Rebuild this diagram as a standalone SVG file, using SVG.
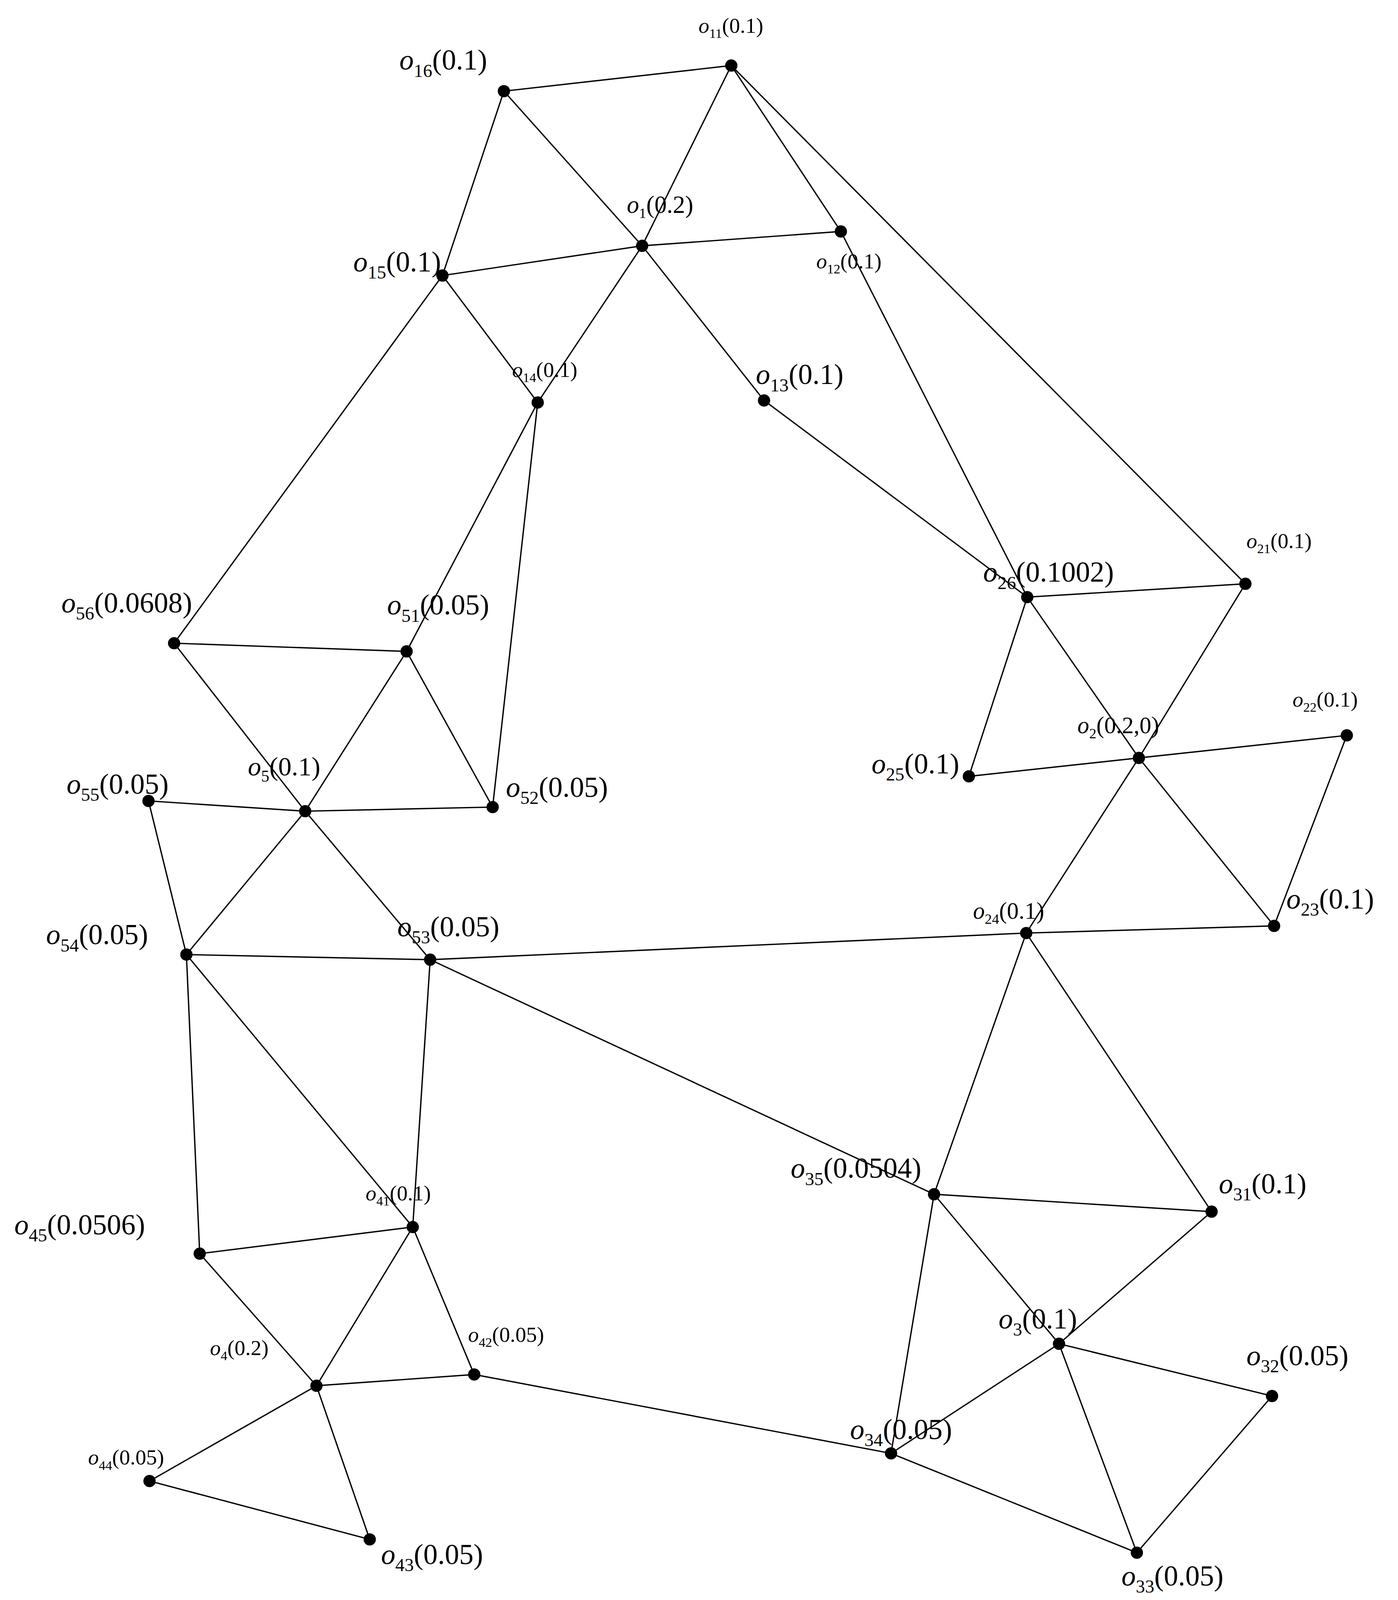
<svg xmlns="http://www.w3.org/2000/svg" width="3579" height="4113" viewBox="0 0 3579 4113">
<style>
line{stroke:#000;stroke-width:1.3}
circle{fill:#000}
text{font-family:"Liberation Serif",serif;fill:#000}
.L{font-size:28px}.S{font-size:21px}
.i{font-style:italic}
</style>
<rect width="3579" height="4113" fill="#fff"/>
<g transform="scale(2.622)">
<g id="edges">
<line x1="492" y1="89" x2="714" y2="64"/><line x1="492" y1="89" x2="432" y2="269"/><line x1="492" y1="89" x2="627" y2="240"/><line x1="627" y1="240" x2="746" y2="391"/>
<line x1="714" y1="64" x2="627" y2="240"/><line x1="714" y1="64" x2="821" y2="226"/><line x1="714" y1="64" x2="1216" y2="570"/>
<line x1="432" y1="269" x2="627" y2="240"/><line x1="627" y1="240" x2="821" y2="226"/><line x1="627" y1="240" x2="525" y2="393"/><line x1="432" y1="269" x2="525" y2="393"/>
<line x1="432" y1="269" x2="170" y2="628"/><line x1="821" y1="226" x2="1003" y2="583"/><line x1="746" y1="391" x2="1003" y2="583"/>
<line x1="525" y1="393" x2="397" y2="636"/><line x1="525" y1="393" x2="481" y2="788"/>
<line x1="170" y1="628" x2="397" y2="636"/><line x1="170" y1="628" x2="298" y2="792"/><line x1="397" y1="636" x2="298" y2="792"/><line x1="397" y1="636" x2="481" y2="788"/>
<line x1="145" y1="782" x2="298" y2="792"/><line x1="298" y1="792" x2="481" y2="788"/><line x1="145" y1="782" x2="182" y2="932"/><line x1="298" y1="792" x2="182" y2="932"/><line x1="298" y1="792" x2="420" y2="937"/>
<line x1="182" y1="932" x2="420" y2="937"/><line x1="420" y1="937" x2="1002" y2="911"/><line x1="420" y1="937" x2="912" y2="1166"/><line x1="420" y1="937" x2="403" y2="1198"/>
<line x1="182" y1="932" x2="195" y2="1224"/><line x1="182" y1="932" x2="403" y2="1198"/>
<line x1="1003" y1="583" x2="1216" y2="570"/><line x1="1003" y1="583" x2="946" y2="758"/><line x1="1003" y1="583" x2="1112" y2="740"/><line x1="1216" y1="570" x2="1112" y2="740"/>
<line x1="946" y1="758" x2="1112" y2="740"/><line x1="1112" y1="740" x2="1315" y2="718"/><line x1="1315" y1="718" x2="1244" y2="904"/><line x1="1112" y1="740" x2="1244" y2="904"/><line x1="1112" y1="740" x2="1002" y2="911"/>
<line x1="1002" y1="911" x2="1244" y2="904"/><line x1="1002" y1="911" x2="912" y2="1166"/><line x1="1002" y1="911" x2="1183" y2="1183"/>
<line x1="912" y1="1166" x2="1183" y2="1183"/><line x1="912" y1="1166" x2="1034" y2="1312"/><line x1="912" y1="1166" x2="870" y2="1419"/><line x1="1183" y1="1183" x2="1034" y2="1312"/>
<line x1="1034" y1="1312" x2="1242" y2="1363"/><line x1="1034" y1="1312" x2="870" y2="1419"/><line x1="1034" y1="1312" x2="1110" y2="1516"/><line x1="1242" y1="1363" x2="1110" y2="1516"/><line x1="870" y1="1419" x2="1110" y2="1516"/>
<line x1="870" y1="1419" x2="463" y2="1342"/><line x1="403" y1="1198" x2="463" y2="1342"/><line x1="403" y1="1198" x2="309" y2="1353"/><line x1="195" y1="1224" x2="403" y2="1198"/><line x1="195" y1="1224" x2="309" y2="1353"/>
<line x1="309" y1="1353" x2="463" y2="1342"/><line x1="309" y1="1353" x2="146" y2="1446"/><line x1="309" y1="1353" x2="361" y2="1503"/><line x1="146" y1="1446" x2="361" y2="1503"/>
</g>
<g id="o11"><circle cx="714" cy="64" r="6"/><text class="S" x="682" y="32"><tspan class="i">o</tspan><tspan font-size="13" dy="5">11</tspan><tspan dy="-5">(0.1)</tspan></text></g>
<g id="o16"><circle cx="492" cy="89" r="6"/><text class="L" x="390" y="68"><tspan class="i">o</tspan><tspan font-size="18" dy="7">16</tspan><tspan dy="-7">(0.1)</tspan></text></g>
<g id="o1"><circle cx="627" cy="240" r="6"/><text font-size="24" x="612" y="208"><tspan class="i">o</tspan><tspan font-size="14" dy="5">1</tspan><tspan dy="-5">(0.2)</tspan></text></g>
<g id="o12"><circle cx="821" cy="226" r="6"/><text class="S" x="797" y="262"><tspan class="i">o</tspan><tspan font-size="13" dy="5">12</tspan><tspan dy="-5">(0.1)</tspan></text></g>
<g id="o15"><circle cx="432" cy="269" r="6"/><text class="L" x="345" y="265"><tspan class="i">o</tspan><tspan font-size="18" dy="7">15</tspan><tspan dy="-7">(0.1)</tspan></text></g>
<g id="o14"><circle cx="525" cy="393" r="6"/><text class="S" x="500" y="368"><tspan class="i">o</tspan><tspan font-size="13" dy="5">14</tspan><tspan dy="-5">(0.1)</tspan></text></g>
<g id="o13"><circle cx="746" cy="391" r="6"/><text class="L" x="738" y="375"><tspan class="i">o</tspan><tspan font-size="18" dy="7">13</tspan><tspan dy="-7">(0.1)</tspan></text></g>
<g id="o56"><circle cx="170" cy="628" r="6"/><text class="L" x="60" y="598"><tspan class="i">o</tspan><tspan font-size="18" dy="7">56</tspan><tspan dy="-7">(0.0608)</tspan></text></g>
<g id="o51"><circle cx="397" cy="636" r="6"/><text class="L" x="378" y="600"><tspan class="i">o</tspan><tspan font-size="18" dy="7">51</tspan><tspan dy="-7">(0.05)</tspan></text></g>
<g id="o52"><circle cx="481" cy="788" r="6"/><text class="L" x="494" y="778"><tspan class="i">o</tspan><tspan font-size="18" dy="7">52</tspan><tspan dy="-7">(0.05)</tspan></text></g>
<g id="o5"><circle cx="298" cy="792" r="6"/><text font-size="26" x="242" y="757"><tspan class="i">o</tspan><tspan font-size="16" dy="6">5</tspan><tspan dy="-6">(0.1)</tspan></text></g>
<g id="o55"><circle cx="145" cy="782" r="6"/><text class="L" x="65" y="775"><tspan class="i">o</tspan><tspan font-size="18" dy="7">55</tspan><tspan dy="-7">(0.05)</tspan></text></g>
<g id="o54"><circle cx="182" cy="932" r="6"/><text class="L" x="45" y="922"><tspan class="i">o</tspan><tspan font-size="18" dy="7">54</tspan><tspan dy="-7">(0.05)</tspan></text></g>
<g id="o53"><circle cx="420" cy="937" r="6"/><text class="L" x="388" y="914"><tspan class="i">o</tspan><tspan font-size="18" dy="7">53</tspan><tspan dy="-7">(0.05)</tspan></text></g>
<g id="o26"><circle cx="1003" cy="583" r="6"/><text class="L" x="960" y="568"><tspan class="i">o</tspan><tspan font-size="18" dy="7">26</tspan><tspan dy="-7">(0.1002)</tspan></text></g>
<g id="o21"><circle cx="1216" cy="570" r="6"/><text class="S" x="1217" y="535"><tspan class="i">o</tspan><tspan font-size="13" dy="5">21</tspan><tspan dy="-5">(0.1)</tspan></text></g>
<g id="o22"><circle cx="1315" cy="718" r="6"/><text class="S" x="1262" y="690"><tspan class="i">o</tspan><tspan font-size="13" dy="5">22</tspan><tspan dy="-5">(0.1)</tspan></text></g>
<g id="o2"><circle cx="1112" cy="740" r="6"/><text font-size="23" x="1052" y="716"><tspan class="i">o</tspan><tspan font-size="14" dy="5">2</tspan><tspan dy="-5">(0.2,0)</tspan></text></g>
<g id="o25"><circle cx="946" cy="758" r="6"/><text class="L" x="851" y="755"><tspan class="i">o</tspan><tspan font-size="18" dy="7">25</tspan><tspan dy="-7">(0.1)</tspan></text></g>
<g id="o24"><circle cx="1002" cy="911" r="6"/><text font-size="23" x="950" y="897"><tspan class="i">o</tspan><tspan font-size="14" dy="5">24</tspan><tspan dy="-5">(0.1)</tspan></text></g>
<g id="o23"><circle cx="1244" cy="904" r="6"/><text class="L" x="1256" y="887"><tspan class="i">o</tspan><tspan font-size="18" dy="7">23</tspan><tspan dy="-7">(0.1)</tspan></text></g>
<g id="o35"><circle cx="912" cy="1166" r="6"/><text class="L" x="772" y="1150"><tspan class="i">o</tspan><tspan font-size="18" dy="7">35</tspan><tspan dy="-7">(0.0504)</tspan></text></g>
<g id="o31"><circle cx="1183" cy="1183" r="6"/><text class="L" x="1190" y="1165"><tspan class="i">o</tspan><tspan font-size="18" dy="7">31</tspan><tspan dy="-7">(0.1)</tspan></text></g>
<g id="o3"><circle cx="1034" cy="1312" r="6"/><text class="L" x="975" y="1297"><tspan class="i">o</tspan><tspan font-size="18" dy="7">3</tspan><tspan dy="-7">(0.1)</tspan></text></g>
<g id="o32"><circle cx="1242" cy="1363" r="6"/><text class="L" x="1217" y="1333"><tspan class="i">o</tspan><tspan font-size="18" dy="7">32</tspan><tspan dy="-7">(0.05)</tspan></text></g>
<g id="o34"><circle cx="870" cy="1419" r="6"/><text class="L" x="830" y="1405"><tspan class="i">o</tspan><tspan font-size="18" dy="7">34</tspan><tspan dy="-7">(0.05)</tspan></text></g>
<g id="o33"><circle cx="1110" cy="1516" r="6"/><text class="L" x="1095" y="1548"><tspan class="i">o</tspan><tspan font-size="18" dy="7">33</tspan><tspan dy="-7">(0.05)</tspan></text></g>
<g id="o41"><circle cx="403" cy="1198" r="6"/><text class="S" x="357" y="1172"><tspan class="i">o</tspan><tspan font-size="13" dy="5">41</tspan><tspan dy="-5">(0.1)</tspan></text></g>
<g id="o45"><circle cx="195" cy="1224" r="6"/><text class="L" x="14" y="1205"><tspan class="i">o</tspan><tspan font-size="18" dy="7">45</tspan><tspan dy="-7">(0.0506)</tspan></text></g>
<g id="o42"><circle cx="463" cy="1342" r="6"/><text class="S" x="457" y="1310"><tspan class="i">o</tspan><tspan font-size="13" dy="5">42</tspan><tspan dy="-5">(0.05)</tspan></text></g>
<g id="o4"><circle cx="309" cy="1353" r="6"/><text class="S" x="205" y="1323"><tspan class="i">o</tspan><tspan font-size="13" dy="5">4</tspan><tspan dy="-5">(0.2)</tspan></text></g>
<g id="o44"><circle cx="146" cy="1446" r="6"/><text class="S" x="86" y="1430"><tspan class="i">o</tspan><tspan font-size="13" dy="5">44</tspan><tspan dy="-5">(0.05)</tspan></text></g>
<g id="o43"><circle cx="361" cy="1503" r="6"/><text class="L" x="372" y="1527"><tspan class="i">o</tspan><tspan font-size="18" dy="7">43</tspan><tspan dy="-7">(0.05)</tspan></text></g>
</g>
</svg>
